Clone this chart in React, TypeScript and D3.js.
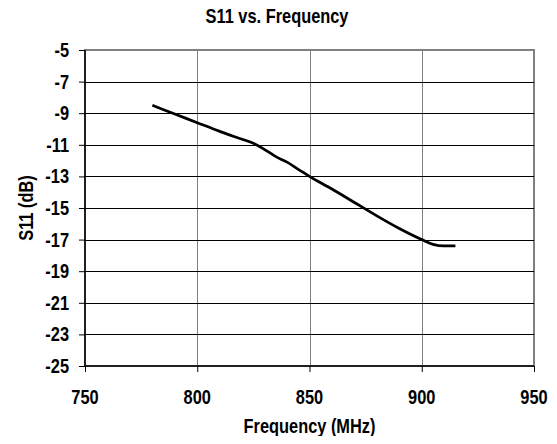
import { useRef, useEffect } from 'react'
import * as d3 from 'd3'

// S11 curve
const freqMHz = [780, 790, 800, 810, 820, 825, 830, 835, 840, 845, 850, 860, 870, 880, 890, 900, 905, 910, 915]
const s11dB = [-8.5, -9.05, -9.6, -10.15, -10.65, -10.9, -11.3, -11.75, -12.1, -12.55, -13.0, -13.8, -14.65, -15.5, -16.3, -17.0, -17.3, -17.4, -17.4]
const xTicks = [750, 800, 850, 900, 950]
const yTicks = [-5, -7, -9, -11, -13, -15, -17, -19, -21, -23, -25]

const W = 557
const H = 444
const FONT = '"Liberation Sans", Arial, sans-serif'
const NARROW = 0.82 // fake Arial Narrow by squeezing Liberation Sans

type Sel = d3.Selection<SVGGElement, unknown, null, undefined> | d3.Selection<SVGSVGElement, unknown, null, undefined>

function narrowText(parent: Sel, x: number, y: number, anchor: string, txt: string, rotate = 0) {
  parent.append('text')
    .attr('transform', `translate(${x},${y}) rotate(${rotate}) scale(${NARROW},1)`)
    .attr('text-anchor', anchor)
    .attr('font-family', FONT)
    .attr('font-weight', 'bold')
    .attr('font-size', '20px')
    .attr('fill', '#000')
    .text(txt)
}

export default function App() {
  const svgRef = useRef<SVGSVGElement>(null)

  useEffect(() => {
    if (!svgRef.current) return
    const svg = d3.select(svgRef.current)
    svg.selectAll('*').remove()

    const margin = { top: 50, right: 23, bottom: 78, left: 85 }
    const innerW = W - margin.left - margin.right
    const innerH = H - margin.top - margin.bottom

    const x = d3.scaleLinear().domain([750, 950]).range([0, innerW])
    const y = d3.scaleLinear().domain([-25, -5]).range([innerH, 0])

    const g = svg.append('g').attr('transform', `translate(${margin.left},${margin.top})`)

    // plot border
    g.append('rect')
      .attr('width', innerW)
      .attr('height', innerH)
      .attr('fill', 'none')
      .attr('stroke', '#808080')
      .attr('stroke-width', 2)

    // vertical grid (grey)
    g.append('g')
      .selectAll('line')
      .data(xTicks.slice(1, -1))
      .join('line')
      .attr('x1', (d) => Math.round(x(d)) + 0.5)
      .attr('x2', (d) => Math.round(x(d)) + 0.5)
      .attr('y1', 0)
      .attr('y2', innerH)
      .attr('stroke', '#808080')
      .attr('stroke-width', 1)

    // horizontal grid (black)
    g.append('g')
      .selectAll('line')
      .data(yTicks.slice(1, -1))
      .join('line')
      .attr('x1', 0)
      .attr('x2', innerW)
      .attr('y1', (d) => Math.round(y(d)) + 0.5)
      .attr('y2', (d) => Math.round(y(d)) + 0.5)
      .attr('stroke', '#000')
      .attr('stroke-width', 1)

    // axes (ticks only, labels drawn narrow below)
    const xAxis = d3.axisBottom(x).tickValues(xTicks).tickSize(6).tickFormat(() => '')
    const yAxis = d3.axisLeft(y).tickValues(yTicks).tickSize(6).tickFormat(() => '')

    const xAxisG = g.append('g').attr('transform', `translate(0,${innerH})`).call(xAxis)
    const yAxisG = g.append('g').call(yAxis)

    for (const ax of [xAxisG, yAxisG]) {
      ax.select('.domain').attr('stroke', '#000').attr('stroke-width', 1.5)
      ax.selectAll('line').attr('stroke', '#000').attr('stroke-width', 1)
    }
    xAxisG.select('.domain').attr('d', `M0,0H${innerW}`)
    yAxisG.select('.domain').attr('d', `M0,0V${innerH}`)

    xTicks.forEach((t) => narrowText(g, x(t), innerH + 38, 'middle', String(t)))
    yTicks.forEach((t) => narrowText(g, -16, y(t) + 7, 'end', String(t)))

    // curve
    const pts = freqMHz.map((f, i) => [f, s11dB[i]] as [number, number])
    const line = d3.line<[number, number]>()
      .x((d) => x(d[0]))
      .y((d) => y(d[1]))
      .curve(d3.curveMonotoneX)

    g.append('path')
      .datum(pts)
      .attr('d', line)
      .attr('fill', 'none')
      .attr('stroke', '#000')
      .attr('stroke-width', 2.7)
      .attr('stroke-linejoin', 'round')

    // titles
    narrowText(svg, 277, 23, 'middle', 'S11 vs. Frequency')
    narrowText(svg, margin.left + innerW / 2, 433, 'middle', 'Frequency (MHz)')
    narrowText(svg, 33, margin.top + innerH / 2, 'middle', 'S11 (dB)', -90)
  }, [])

  return (
    <div style={{ margin: -8, overflow: 'hidden' }}>
      <svg ref={svgRef} width={W} height={H} style={{ display: 'block', background: '#fff' }} />
    </div>
  )
}
